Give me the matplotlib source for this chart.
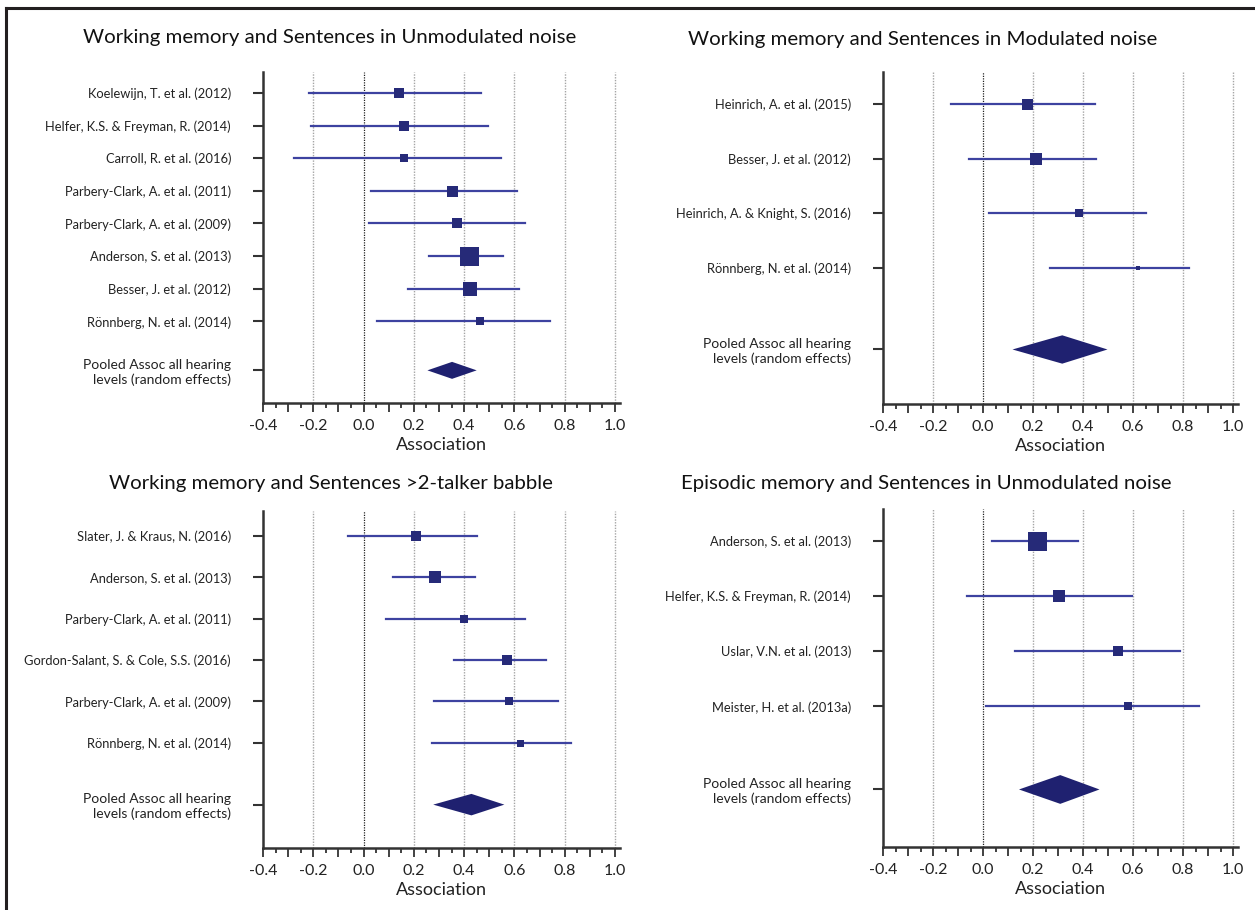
import matplotlib
matplotlib.use("Agg")
import matplotlib.pyplot as plt
from matplotlib.lines import Line2D
import matplotlib.ticker as mticker

plt.rcParams['font.family'] = ['Lato', 'DejaVu Sans']

# Panel 1: Working memory, unmodulated noise
p1_labels = ['Koelewijn, T. et al. (2012)', 'Helfer, K.S. & Freyman, R. (2014)',
             'Carroll, R. et al. (2016)', 'Parbery-Clark, A. et al. (2011)',
             'Parbery-Clark, A. et al. (2009)', 'Anderson, S. et al. (2013)',
             'Besser, J. et al. (2012)', 'Rönnberg, N. et al. (2014)']
p1_est = [0.142, 0.162, 0.162, 0.352, 0.372, 0.420, 0.424, 0.465]
p1_lo = [-0.218, -0.210, -0.275, 0.031, 0.020, 0.262, 0.178, 0.052]
p1_hi = [0.466, 0.494, 0.548, 0.609, 0.642, 0.556, 0.620, 0.740]
p1_wt = [10, 10, 8, 11, 10, 19, 14, 8]
p1_pool = [0.254, 0.352, 0.450]

# Panel 2: Working memory, modulated noise
p2_labels = ['Heinrich, A. et al. (2015)', 'Besser, J. et al. (2012)',
             'Heinrich, A. & Knight, S. (2016)', 'Rönnberg, N. et al. (2014)']
p2_est = [0.174, 0.212, 0.383, 0.618]
p2_lo = [-0.130, -0.058, 0.025, 0.267]
p2_hi = [0.446, 0.450, 0.651, 0.824]
p2_wt = [11, 12.5, 8, 5]
p2_pool = [0.118, 0.317, 0.498]

# Panel 3: Working memory, >2-talker babble
p3_labels = ['Slater, J. & Kraus, N. (2016)', 'Anderson, S. et al. (2013)',
             'Parbery-Clark, A. et al. (2011)', 'Gordon-Salant, S. & Cole, S.S. (2016)',
             'Parbery-Clark, A. et al. (2009)', 'Rönnberg, N. et al. (2014)']
p3_est = [0.208, 0.286, 0.401, 0.570, 0.579, 0.622]
p3_lo = [-0.062, 0.118, 0.090, 0.358, 0.281, 0.273]
p3_hi = [0.450, 0.445, 0.642, 0.727, 0.772, 0.825]
p3_wt = [10, 12, 8, 10, 8, 7]
p3_pool = [0.277, 0.429, 0.560]

# Panel 4: Episodic memory, unmodulated noise
p4_labels = ['Anderson, S. et al. (2013)', 'Helfer, K.S. & Freyman, R. (2014)',
             'Uslar, V.N. et al. (2013)', 'Meister, H. et al. (2013a)']
p4_est = [0.216, 0.305, 0.539, 0.578]
p4_lo = [0.036, -0.066, 0.128, 0.011]
p4_hi = [0.378, 0.597, 0.789, 0.864]
p4_wt = [19, 12, 9.5, 8]
p4_pool = [0.144, 0.309, 0.466]

titles = ['Working memory and Sentences in Unmodulated noise',
          'Working memory and Sentences in Modulated noise',
          'Working memory and Sentences >2-talker babble',
          'Episodic memory and Sentences in Unmodulated noise']
pool_label = 'Pooled Assoc all hearing\nlevels (random effects)'

W, H = 1255, 910
fig = plt.figure(figsize=(W / 100, H / 100), dpi=100)

SQ = '#262a78'
LN = '#3d42a0'
AX = '#333333'


def box(x0, x1, ytop, ybot):
    return [x0 / W, 1 - ybot / H, (x1 - x0) / W, (ybot - ytop) / H]


def draw_panel(ax, labels, est, lo, hi, wt, pool, top, bottom):
    n = len(labels)
    ys = list(range(n))
    ypool = n - 1 + 1.5
    for xv in [-0.2, 0.2, 0.4, 0.6, 0.8, 1.0]:
        ax.axvline(xv, color='#a5a5a5', lw=1.0, ls=(0, (1, 1)), zorder=0)
    ax.axvline(0.0, color='#222222', lw=0.9, ls=(0, (1, 1)), zorder=0)
    for i in range(n):
        ax.plot([lo[i], hi[i]], [ys[i], ys[i]], color=LN, lw=1.6, zorder=2)
        ax.plot(est[i], ys[i], 's', color=SQ, ms=wt[i] * 0.72, mew=0, zorder=3)
    h = 0.26
    ax.fill([pool[0], pool[1], pool[2], pool[1]],
            [ypool, ypool - h, ypool, ypool + h], color='#1f2170', lw=0, zorder=3)

    ax.set_xlim(-0.4, 1.02)
    ax.set_ylim(bottom, top)
    ax.set_yticks(ys + [ypool])
    ax.set_yticklabels(labels + [pool_label], fontsize=9.3, color='#222222',
                       multialignment='right')
    ax.get_yticklabels()[-1].set_fontsize(10)
    ax.tick_params(axis='y', direction='out', length=7, width=1.5, color=AX, pad=16)

    ax.xaxis.set_major_locator(mticker.MultipleLocator(0.1))
    ax.xaxis.set_minor_locator(mticker.MultipleLocator(0.05))
    ax.xaxis.set_major_formatter(mticker.FuncFormatter(
        lambda v, p: f'{v:.1f}' if abs(round(v * 10)) % 2 == 0 else ''))
    ax.tick_params(axis='x', which='major', direction='out', length=6.5, width=1.3,
                   color=AX, labelsize=11.5, labelcolor='#222222', pad=5)
    ax.tick_params(axis='x', which='minor', direction='out', length=3.5, width=1.3, color=AX)
    ax.set_xlabel('Association', fontsize=13, color='#222222', labelpad=3)

    for s in ['top', 'right']:
        ax.spines[s].set_visible(False)
    for s in ['left', 'bottom']:
        ax.spines[s].set_linewidth(1.8)
        ax.spines[s].set_color(AX)


panels = [
    (box(263, 620, 72, 403), p1_labels, p1_est, p1_lo, p1_hi, p1_wt, p1_pool, -0.64, 9.5, (330, 38)),
    (box(883, 1238, 72, 404), p2_labels, p2_est, p2_lo, p2_hi, p2_wt, p2_pool, -0.59, 5.5, (923, 40)),
    (box(263, 620, 511, 848), p3_labels, p3_est, p3_lo, p3_hi, p3_wt, p3_pool, -0.61, 7.55, (331, 483)),
    (box(883, 1238, 509, 847), p4_labels, p4_est, p4_lo, p4_hi, p4_wt, p4_pool, -0.57, 5.54, (926, 483)),
]

for k, (rect, lab, est, lo, hi, wt, pool, top, bottom, tpos) in enumerate(panels):
    ax = fig.add_axes(rect)
    draw_panel(ax, lab, est, lo, hi, wt, pool, top, bottom)
    fig.text(tpos[0] / W, 1 - tpos[1] / H, titles[k], fontsize=14.7, color='#111111',
             ha='center', va='center')

# outer frame lines (top and left)
fig.add_artist(Line2D([6 / W, 1], [1 - 8 / H, 1 - 8 / H], color='#231f20', lw=2.2,
                      transform=fig.transFigure))
fig.add_artist(Line2D([6 / W, 6 / W], [1 - 8 / H, 0], color='#231f20', lw=2.2,
                      transform=fig.transFigure))

fig.savefig('out.png', dpi=100, facecolor='white')
